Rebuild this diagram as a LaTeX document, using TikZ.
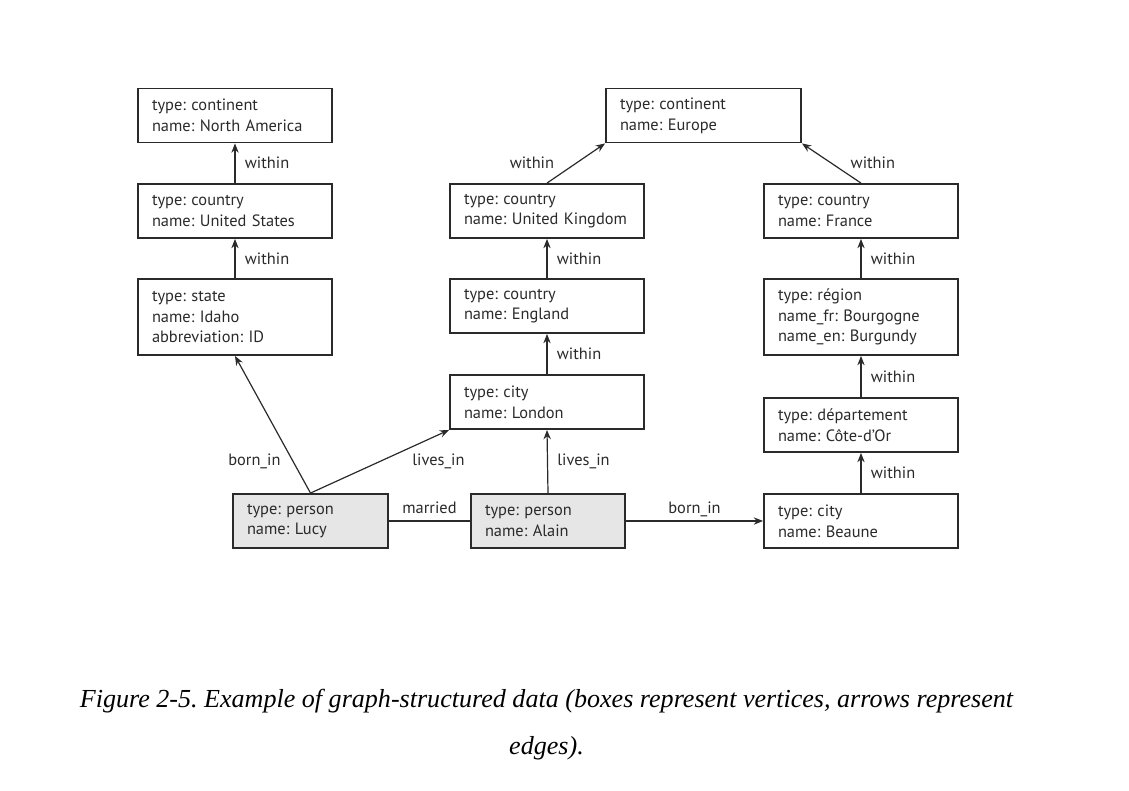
\documentclass[tikz,border=0pt]{standalone}
\usepackage{fontspec}
\setmainfont{Liberation Serif}
\newfontfamily\boxfont{PT Sans}
\usetikzlibrary{arrows.meta,calc}
\definecolor{persongray}{HTML}{E6E6E6}
\definecolor{inkgray}{HTML}{2A2A2A}
\newlength\capw
\newcommand\capfirst{Figure 2-5. Example of graph-structured data (boxes represent vertices, arrows represent}
\newcommand\capline[1]{\fontsize{19.5}{22}\selectfont\itshape
  \settowidth\capw{\capfirst}%
  \pgfmathsetmacro\capsx{700pt/\capw}%
  \scalebox{\capsx}[1]{#1}}
\begin{document}
\frenchspacing
\begin{tikzpicture}[x=0.75pt,y=-0.75pt,
  box/.style={draw=inkgray, line width=1.4pt, minimum height=#1*0.75pt, text width=166*0.75pt,
    inner xsep=14*0.75pt, align=left, text=inkgray, font=\boxfont\fontsize{12.3}{15.5}\selectfont},
  box/.default=54,
  bw/.style={minimum width=#1*0.75pt, text width=(#1-28)*0.75pt},
  pbox/.style={box, fill=persongray},
  conn/.style={draw=inkgray, line width=0.9pt, -{Stealth[length=7pt,width=5.5pt]}},
  plain/.style={draw=inkgray, line width=0.9pt},
  lab/.style={text=inkgray, font=\boxfont\fontsize{12.3}{14}\selectfont, inner sep=1pt}
]
\useasboundingbox (0,0) rectangle (1129,790);
% vertices
\node[box, bw=194] (na) at (235,115.5) {type: continent\\name: North America};
\node[box, bw=194] (us) at (235,211) {type: country\\name: United States};
\node[box=76, bw=194] (id) at (235,317) {type: state\\name: Idaho\\abbreviation: ID};
\node[box, bw=195] (eu) at (703.5,115.5) {type: continent\\name: Europe};
\node[box, bw=194] (uk) at (547,211) {type: country\\name: United Kingdom};
\node[box, bw=194] (fr) at (861,211) {type: country\\name: France};
\node[box, bw=194] (en) at (547,306) {type: country\\name: England};
\node[box, bw=194] (lon) at (547,402) {type: city\\name: London};
\node[box=76, bw=194] (reg) at (861,317) {type: région\\name\_fr: Bourgogne\\name\_en: Burgundy};
\node[box, bw=194] (dep) at (861,425) {type: département\\name: Côte-d’Or};
\node[box, bw=194] (bea) at (861,521) {type: city\\name: Beaune};
\node[pbox, bw=155] (lucy) at (310.5,521) {type: person\\name: Lucy};
\node[pbox, bw=154] (alain) at (548,521) {type: person\\name: Alain};
% edges
\draw[conn] (us.north) -- node[lab, anchor=west, xshift=6pt] {within} (na.south);
\draw[conn] (id.north) -- node[lab, anchor=west, xshift=6pt] {within} (us.south);
\draw[conn] (uk.north) -- node[lab, anchor=east, xshift=-15pt] {within} (eu.south west);
\draw[conn] (fr.north) -- node[lab, anchor=west, xshift=13pt] {within} (eu.south east);
\draw[conn] (en.north) -- node[lab, anchor=west, xshift=6pt] {within} (uk.south);
\draw[conn] (lon.north) -- node[lab, anchor=west, xshift=6pt] {within} (en.south);
\draw[conn] (reg.north) -- node[lab, anchor=west, xshift=6pt] {within} (fr.south);
\draw[conn] (dep.north) -- node[lab, anchor=west, xshift=6pt] {within} (reg.south);
\draw[conn] (bea.north) -- node[lab, anchor=west, xshift=6pt] {within} (dep.south);
\draw[conn] (lucy.north) -- node[lab, pos=0.23, anchor=east, xshift=-8pt] {born\_in} (id.south);
\draw[conn] (lucy.north) -- node[lab, midway, anchor=west, xshift=23pt] {lives\_in} (lon.south west);
\draw[conn] (alain.north) -- node[lab, anchor=west, xshift=6pt] {lives\_in} (lon.south);
\draw[plain] (lucy.east) -- node[lab, anchor=base, yshift=5.5pt] {married} (alain.west);
\draw[conn] (alain.east) -- node[lab, anchor=base, yshift=5.5pt] {born\_in} (bea.west);
% caption
\node[anchor=base, inner sep=0pt] (cap1) at (546.5,707) {\capline{\capfirst}};
\node[anchor=base, inner sep=0pt] (cap2) at (546.5,754) {\capline{edges).}};
\end{tikzpicture}
\end{document}
